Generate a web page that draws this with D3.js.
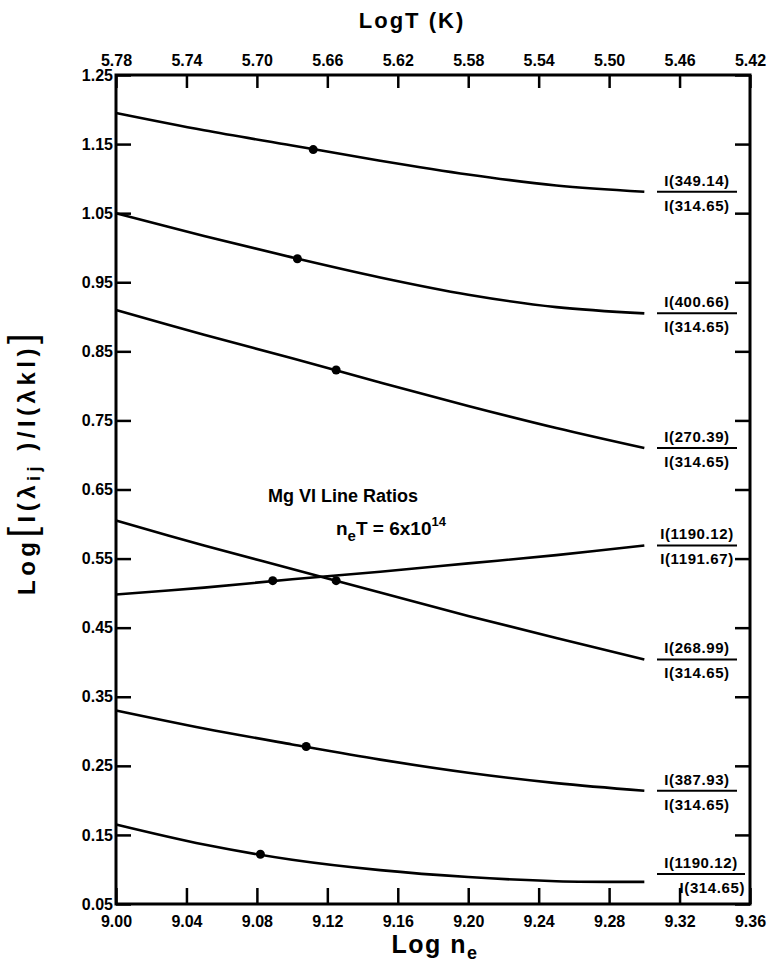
<!DOCTYPE html>
<html>
<head>
<meta charset="utf-8">
<script src="https://cdn.jsdelivr.net/npm/d3@7"></script>
<style>
  body { margin: 0; background: #fff; }
  text { font-family: "Liberation Sans", "DejaVu Sans", sans-serif; font-weight: bold; fill: #000; }
</style>
</head>
<body>
<svg id="chart" width="771" height="971"></svg>
<script>
"use strict";

// tick values
var neTicks = [9.00, 9.04, 9.08, 9.12, 9.16, 9.20, 9.24, 9.28, 9.32, 9.36];
var tTicks = [5.78, 5.74, 5.70, 5.66, 5.62, 5.58, 5.54, 5.50, 5.46, 5.42];
var ratioTicks = [0.05, 0.15, 0.25, 0.35, 0.45, 0.55, 0.65, 0.75, 0.85, 0.95, 1.05, 1.15, 1.25];

// log n_e grid the curves are read at
var logNe = [9.00, 9.05, 9.10, 9.15, 9.20, 9.25, 9.30];

// Log of line ratios, one array per curve
var r349 = [1.195, 1.170, 1.148, 1.126, 1.106, 1.090, 1.081];
var r400 = [1.050, 1.017, 0.986, 0.957, 0.932, 0.914, 0.905];
var r270 = [0.910, 0.874, 0.840, 0.805, 0.771, 0.739, 0.710];
var r1190a = [0.498, 0.508, 0.520, 0.531, 0.543, 0.555, 0.569];
var r268 = [0.605, 0.569, 0.535, 0.501, 0.467, 0.435, 0.404];
var r387 = [0.330, 0.304, 0.281, 0.259, 0.240, 0.225, 0.214];
var r1190b = [0.165, 0.136, 0.114, 0.099, 0.089, 0.083, 0.082];

// marked points (log n_e, ratio)
var dotNe = [9.112, 9.103, 9.125, 9.089, 9.125, 9.108, 9.082];
var dotVal = [1.142, 0.984, 0.823, 0.518, 0.518, 0.278, 0.122];

var numLabels = ["I(349.14)", "I(400.66)", "I(270.39)", "I(1190.12)", "I(268.99)", "I(387.93)", "I(1190.12)"];
var denLabels = ["I(314.65)", "I(314.65)", "I(314.65)", "I(1191.67)", "I(314.65)", "I(314.65)", "I(314.65)"];

var series = [r349, r400, r270, r1190a, r268, r387, r1190b];

var svg = d3.select("#chart");

var x = d3.scaleLinear().domain([9.00, 9.36]).range([116, 750]);
var xT = d3.scaleLinear().domain([5.78, 5.42]).range([116, 750]);
var y = d3.scaleLinear().domain([0.05, 1.25]).range([904, 75]);

var fmt = d3.format(".2f");

// axes, ticks pointing inwards
var axisB = svg.append("g")
    .attr("transform", "translate(0," + y(0.05) + ")")
    .call(d3.axisBottom(x).tickValues(neTicks).tickFormat(fmt)
        .tickSizeInner(-16).tickSizeOuter(0).tickPadding(12));

var axisT = svg.append("g")
    .attr("transform", "translate(0," + y(1.25) + ")")
    .call(d3.axisTop(xT).tickValues(tTicks).tickFormat(fmt)
        .tickSizeInner(-13).tickSizeOuter(0).tickPadding(9));

var axisL = svg.append("g")
    .attr("transform", "translate(" + x(9.00) + ",0)")
    .call(d3.axisLeft(y).tickValues(ratioTicks).tickFormat(fmt)
        .tickSizeInner(-15).tickSizeOuter(0).tickPadding(3));

var axisR = svg.append("g")
    .attr("transform", "translate(" + x(9.36) + ",0)")
    .call(d3.axisRight(y).tickValues(ratioTicks).tickFormat("")
        .tickSizeInner(-15).tickSizeOuter(0));

[axisB, axisT, axisL, axisR].forEach(function (g) {
    g.select(".domain").remove();
    g.selectAll(".tick line").attr("stroke", "#000").attr("stroke-width", 2.5);
    g.selectAll(".tick text").style("font-size", "16px").attr("fill", "#000");
});

// frame
svg.append("rect")
    .attr("x", x(9.00))
    .attr("y", y(1.25))
    .attr("width", x(9.36) - x(9.00))
    .attr("height", y(0.05) - y(1.25))
    .attr("fill", "none")
    .attr("stroke", "#000")
    .attr("stroke-width", 3);

// curves
var line = d3.line()
    .x(function (d, i) { return x(logNe[i]); })
    .y(function (d) { return y(d); })
    .curve(d3.curveCatmullRom.alpha(0.5));

svg.selectAll("path.curve")
    .data(series)
    .enter()
    .append("path")
    .attr("class", "curve")
    .attr("d", line)
    .attr("fill", "none")
    .attr("stroke", "#000")
    .attr("stroke-width", 2.6);

svg.selectAll("circle.dot")
    .data(dotNe)
    .enter()
    .append("circle")
    .attr("class", "dot")
    .attr("cx", function (d) { return x(d); })
    .attr("cy", function (d, i) { return y(dotVal[i]); })
    .attr("r", 4.5)
    .attr("fill", "#000");

// ratio labels at the right end of each curve
var last = series.length - 1;

var lab = svg.selectAll("g.lab")
    .data(series)
    .enter()
    .append("g")
    .attr("class", "lab")
    .attr("transform", function (d, i) {
        // the bottom label sits a little higher, clear of the frame
        var dy = i === last ? -8 : 0;
        return "translate(697," + (y(d[d.length - 1]) + dy) + ")";
    });

lab.append("line")
    .attr("x1", -40)
    .attr("x2", function (d, i) { return i === last ? 48 : 40; })
    .attr("stroke", "#000").attr("stroke-width", 2);

lab.append("text")
    .attr("text-anchor", "middle")
    .attr("x", function (d, i) { return i === last ? 4 : 0; })
    .attr("y", -6)
    .style("font-size", "15px")
    .style("letter-spacing", "0.6px")
    .text(function (d, i) { return numLabels[i]; });

lab.append("text")
    .attr("text-anchor", function (d, i) { return i === last ? "end" : "middle"; })
    .attr("x", function (d, i) { return i === last ? 48 : 0; })
    .attr("y", 19)
    .style("font-size", "15px")
    .style("letter-spacing", "0.6px")
    .text(function (d, i) { return denLabels[i]; });

// annotation
svg.append("text")
    .attr("x", 343).attr("y", 502)
    .attr("text-anchor", "middle")
    .style("font-size", "18px")
    .text("Mg VI Line Ratios");

var ann = svg.append("text")
    .attr("x", 336).attr("y", 535)
    .style("font-size", "19px");
ann.append("tspan").text("n");
ann.append("tspan").attr("dy", 6).style("font-size", "15px").text("e");
ann.append("tspan").attr("dy", -6).text("T  = 6x10");
ann.append("tspan").attr("dy", -9).style("font-size", "13px").text("14");

// axis titles
svg.append("text")
    .attr("x", 412).attr("y", 28)
    .attr("text-anchor", "middle")
    .style("font-size", "22px")
    .style("letter-spacing", "2px")
    .text("LogT (K)");

var xt = svg.append("text")
    .attr("x", 435).attr("y", 953)
    .attr("text-anchor", "middle")
    .style("font-size", "25px")
    .style("letter-spacing", "1.5px");
xt.append("tspan").text("Log n");
xt.append("tspan").attr("dy", 6).style("font-size", "18px").text("e");

var yt = svg.append("text")
    .attr("transform", "translate(35,462) rotate(-90)")
    .attr("text-anchor", "middle")
    .style("font-size", "24px")
    .style("letter-spacing", "4.5px");
yt.append("tspan").text("Log");
yt.append("tspan").style("font-size", "38px").style("font-weight", "normal").text("[");
yt.append("tspan").text("I(λ");
yt.append("tspan").attr("dy", 5).style("font-size", "18px").text("ij");
yt.append("tspan").attr("dy", -5).text(" )/I(λkl)");
yt.append("tspan").style("font-size", "38px").style("font-weight", "normal").text("]");
</script>
</body>
</html>
